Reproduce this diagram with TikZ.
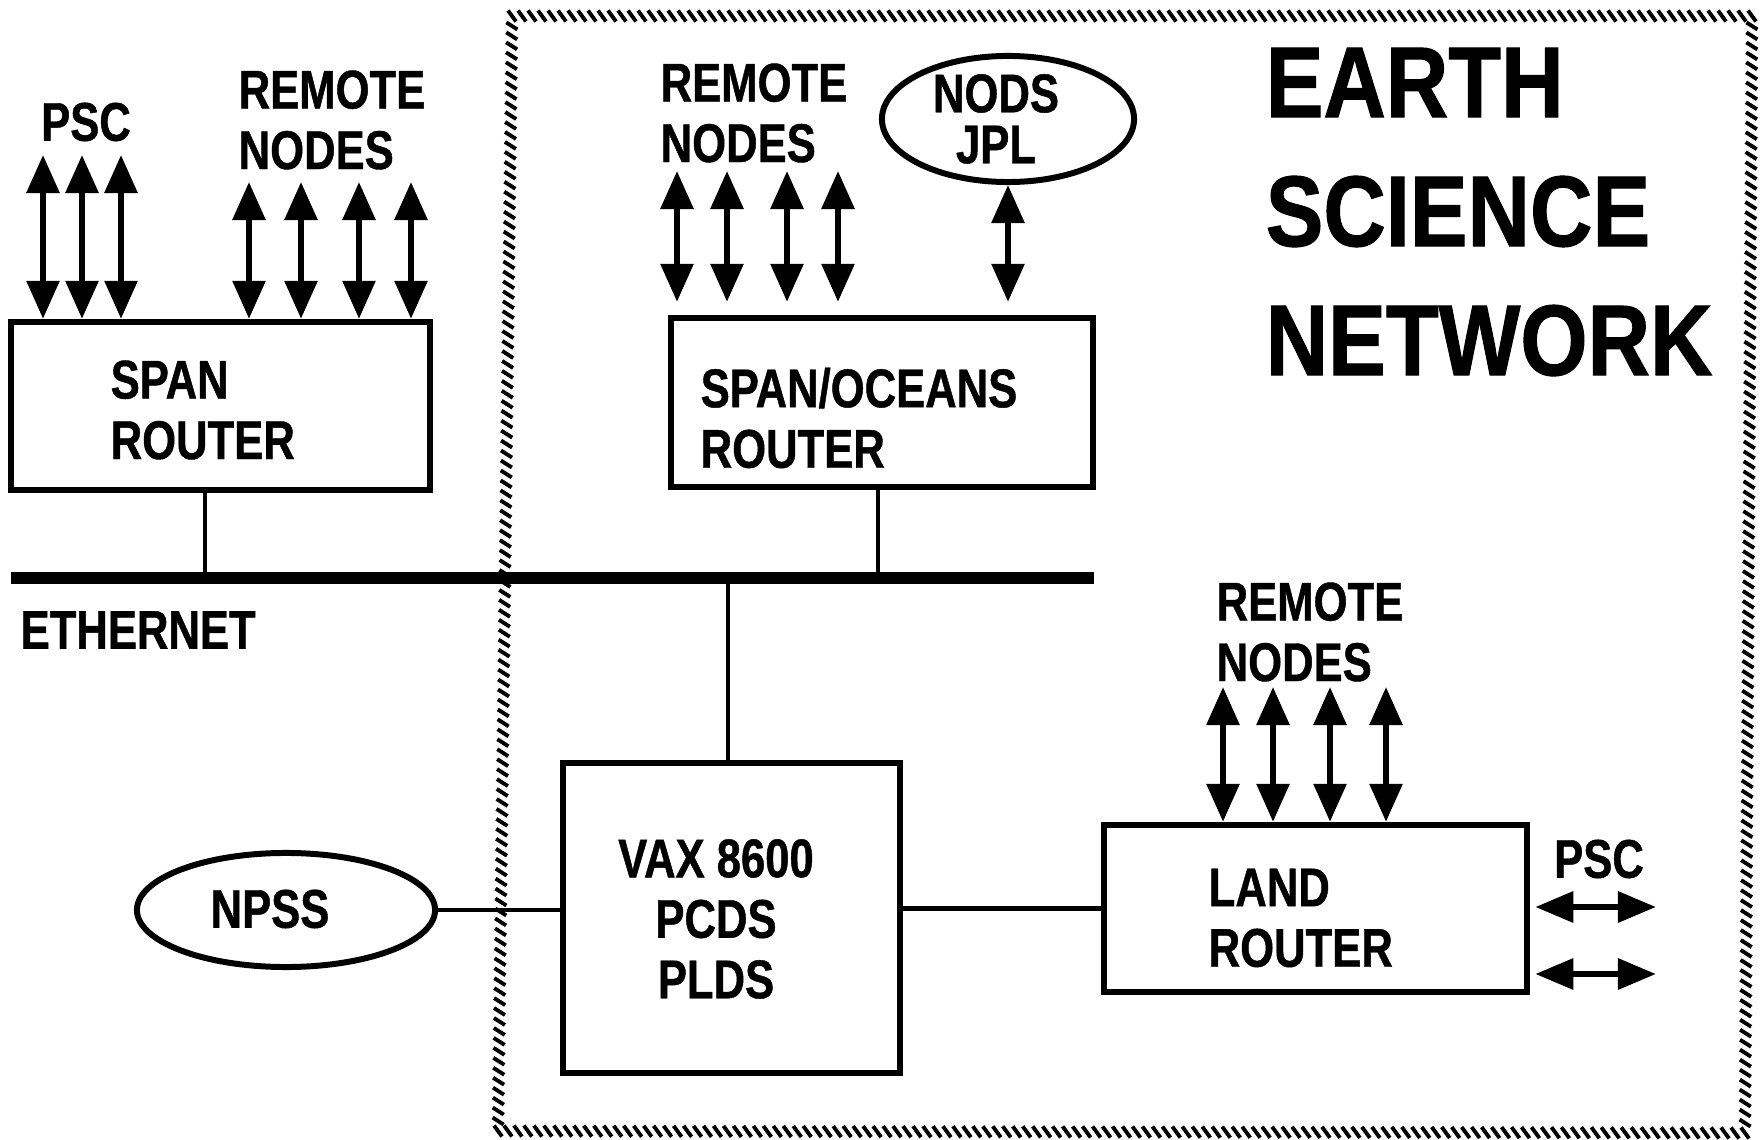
\documentclass[tikz,border=0pt]{standalone}
\usepackage{fontspec}
\newfontfamily\lblfont{Liberation Sans}[FakeStretch=0.8,FakeBold=0.8]
\newfontfamily\ttlfont{Liberation Sans}[FakeStretch=0.86,FakeBold=1]
\usetikzlibrary{arrows.meta,shapes.geometric,calc}
\tikzset{
  lbl/.style={inner sep=0pt, align=left, font=\lblfont\bfseries\fontsize{15.5}{17.2}\selectfont},
  boxnode/.style={draw, line width=1.8pt, inner sep=0pt, rectangle},
  ellnode/.style={draw, line width=1.7pt, ellipse, inner sep=0pt, align=center},
  dbl/.style={{Triangle[length=3.8mm,width=3.2mm]}-{Triangle[length=3.8mm,width=3.2mm]}, line width=1.7pt},
  hdbl/.style={{Triangle[length=3.8mm,width=3.0mm]}-{Triangle[length=3.8mm,width=3.0mm]}, line width=1.8pt},
  conn/.style={line width=1.4pt},
  hatch/.style={line width=1.1pt}
}
\begin{document}
\begin{tikzpicture}[x=0.01cm,y=-0.01cm]
\useasboundingbox (0,0) rectangle (1760,1140);
% hatched frame
\coordinate (f1) at (512,16);
\coordinate (f2) at (1752,16);
\coordinate (f3) at (1745,1133);
\coordinate (f4) at (498,1131);
\foreach \i in {0,...,124} \draw[hatch] ($(f1)!\i/124!(f2)$) ++(-4,-5.5) -- ++(8,11);
\foreach \i in {1,...,111} \draw[hatch] ($(f2)!\i/112!(f3)$) ++(-5.5,-3.5) -- ++(11,7);
\foreach \i in {0,...,125} \draw[hatch] ($(f4)!\i/125!(f3)$) ++(-4,-5.5) -- ++(8,11);
\foreach \i in {1,...,111} \draw[hatch] ($(f1)!\i/112!(f4)$) ++(-5.5,-3.5) -- ++(11,7);

% title
\node[inner sep=0pt, align=left, anchor=west, font=\ttlfont\bfseries\fontsize{28.6}{36.7}\selectfont] (title) at (1265,212) {EARTH\\SCIENCE\\NETWORK};

% boxes
\node[boxnode, minimum width=4.19cm, minimum height=1.68cm] (sr) at (220.5,406) {};
\node[boxnode, minimum width=4.22cm, minimum height=1.69cm] (so) at (882,402.5) {};
\node[boxnode, minimum width=3.37cm, minimum height=3.10cm] (vax) at (731.5,918) {};
\node[boxnode, minimum width=4.23cm, minimum height=1.67cm] (land) at (1315.5,908.5) {};

% box texts
\node[lbl, anchor=west] (srt) at (110,410) {SPAN\\ROUTER};
\node[lbl, anchor=west] (sot) at (700,418) {SPAN/OCEANS\\ROUTER};
\node[lbl, align=center] (vaxt) at (716,919) {VAX 8600\\PCDS\\PLDS};
\node[lbl, anchor=west] (landt) at (1208,918) {LAND\\ROUTER};

% ellipses
\node[ellnode, minimum width=2.52cm, minimum height=1.26cm] (nods) at (1008,119) {};
\node[ellnode, minimum width=2.98cm, minimum height=1.14cm] (npss) at (286,910) {};
\node[lbl, align=center, font=\lblfont\bfseries\fontsize{15.5}{14.5}\selectfont] (nodst) at (996,119) {NODS\\JPL};
\node[lbl] (npsst) at (270,909) {NPSS};

% labels
\node[lbl] (pscl) at (86,122) {PSC};
\node[lbl, anchor=west] (rnl) at (238,120) {REMOTE\\NODES};
\node[lbl, anchor=west] (rnm) at (660,113) {REMOTE\\NODES};
\node[lbl, anchor=west] (rnr) at (1216,632) {REMOTE\\NODES};
\node[lbl] (pscr) at (1599,859) {PSC};
\node[lbl, anchor=west] (eth) at (20,630) {ETHERNET};

% ethernet
\coordinate (ethL) at (11,578);
\coordinate (ethR) at (1094,578);
\draw[line width=3.6pt] (ethL) -- (ethR);
\coordinate (e1) at (205,578);
\coordinate (e2) at (878,578);
\coordinate (e3) at (728,578);
\draw[conn] (e1 |- sr.south) -- (e1);
\draw[conn] (e2 |- so.south) -- (e2);
\draw[conn] (e3) -- (e3 |- vax.north);
\draw[conn] (npss.east) -- (npss.east -| vax.west);
\draw[conn] (vax.east |- land.west) -- (land.west);

% arrows left
\foreach \n/\x/\y in {a1/43/155, a2/82/155, a3/121/155, b1/249/182, b2/301/182, b3/359/182, b4/411/182}{
  \coordinate (\n) at (\x,\y);
  \draw[dbl] (\n) -- (\n |- sr.north);
}
% arrows middle
\foreach \n/\x/\y in {c1/677/171, c2/727/171, c3/787/171, c4/838/171}{
  \coordinate (\n) at (\x,\y);
  \draw[dbl, shorten >=0.13cm] (\n) -- (\n |- so.north);
}
\draw[dbl, shorten >=0.13cm] (nods.south) -- (nods.south |- so.north);
% arrows right
\foreach \n/\x/\y in {d1/1223/687, d2/1273/687, d3/1330/687, d4/1386/687}{
  \coordinate (\n) at (\x,\y);
  \draw[dbl] (\n) -- (\n |- land.north);
}
\coordinate (g1) at (1656,907);
\coordinate (g2) at (1656,974);
\draw[hdbl, shorten <=0.05cm] (g1 -| land.east) -- (g1);
\draw[hdbl, shorten <=0.05cm] (g2 -| land.east) -- (g2);
\end{tikzpicture}
\end{document}
